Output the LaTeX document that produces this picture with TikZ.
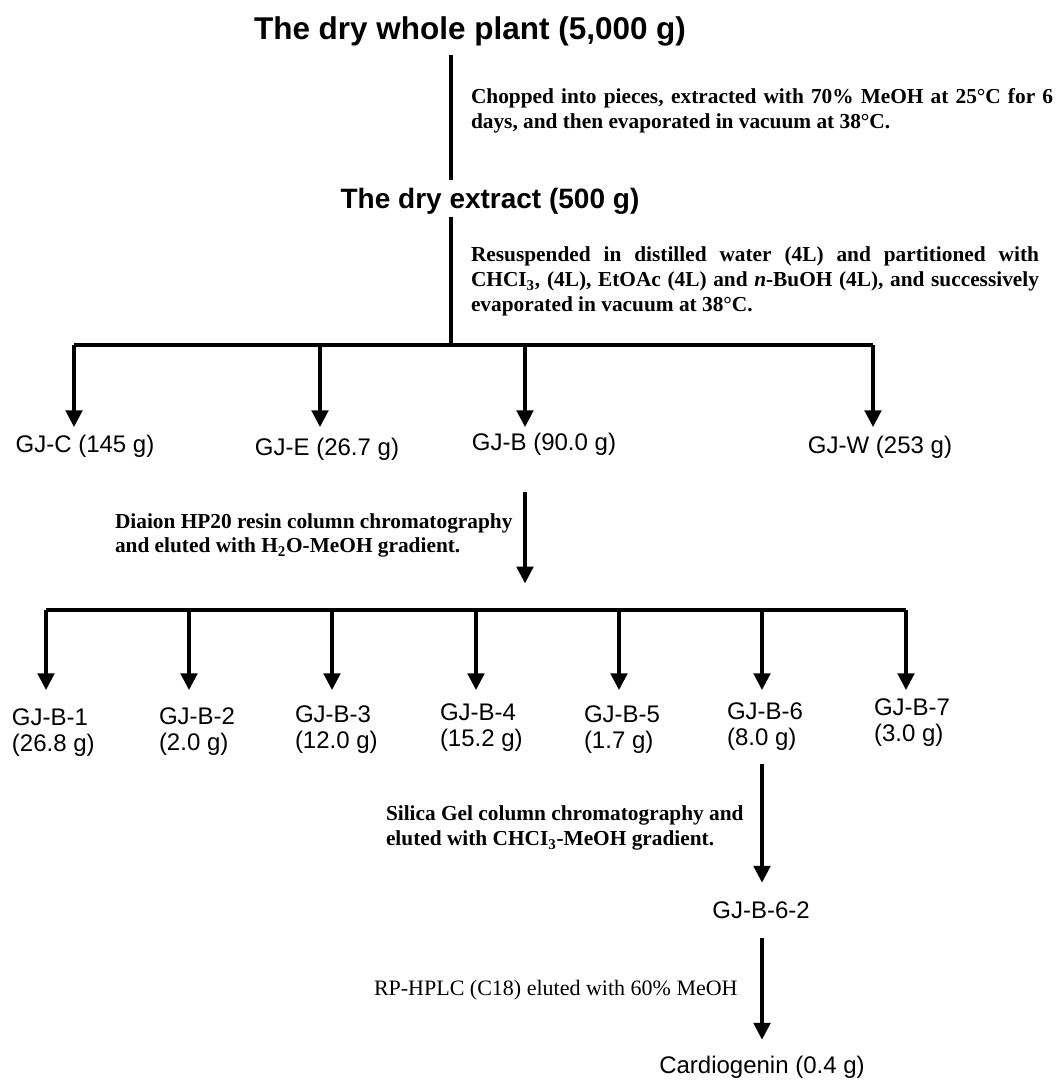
\documentclass[tikz,border=0pt]{standalone}
\usepackage{fontspec}
\setmainfont{Liberation Serif}
\setsansfont{Liberation Sans}
\usepackage{tikz}
\usetikzlibrary{arrows.meta}
\tikzstyle{every node}=[inner sep=0pt, outer sep=0pt]
\tikzset{stem/.style={line width=2.3pt},
  bar/.style={line width=3pt},
  down/.style={line width=2.3pt, -{Triangle[width=12.5pt,length=12.5pt]}},
  frac/.style={font=\fontsize{18}{19.5}\selectfont\sffamily, align=left},
  proc/.style={font=\fontsize{16}{18.75}\selectfont\bfseries, align=justify}}

\begin{document}
\begin{tikzpicture}[x=0.75pt,y=-0.75pt]
\useasboundingbox (0,0) rectangle (1058,1081);
% extraction
\coordinate (trunk) at (451,0);
\node[font=\fontsize{23.6}{28}\selectfont\sffamily\bfseries, anchor=base] (plant) at (470,40) {The dry whole plant (5,000 g)};
\node[font=\fontsize{21}{25}\selectfont\sffamily\bfseries, anchor=base] (extract) at (490,208) {The dry extract (500 g)};
\draw[stem, shorten <=6pt, shorten >=5.5pt] (trunk |- plant.south) -- (trunk |- extract.north);
\node[proc, text width=436.5pt, anchor=north west] (chop) at (471,88) {Chopped into pieces, extracted with 70\% MeOH at 25°C for 6\linebreak days, and then evaporated in vacuum at 38°C.};
% partition
\coordinate (kC) at (74,345);
\coordinate (kE) at (320,345);
\coordinate (kB) at (525,345);
\coordinate (kW) at (873,345);
\coordinate (tip1) at (0,427);
\draw[stem, shorten <=2pt] (trunk |- extract.south) -- (trunk |- kC);
\draw[bar] (kC) -- (kW);
\node[proc, text width=426pt, anchor=north west] (resus) at (471,247) {Resuspended in distilled water (4L) and partitioned with\linebreak CHCI\textsubscript{3}, (4L), EtOAc (4L) and \textit{n}-BuOH (4L), and successively\linebreak evaporated in vacuum at 38°C.};
\node[frac, anchor=base] (gjc) at (85,452) {GJ-C (145 g)};
\node[frac, anchor=base] (gje) at (327,455) {GJ-E (26.7 g)};
\node[frac, anchor=base] (gjb) at (544,450) {GJ-B (90.0 g)};
\node[frac, anchor=base] (gjw) at (880,453) {GJ-W (253 g)};
\foreach \k in {C,E,B,W}
  \draw[down] (k\k) -- (k\k |- tip1);
% Diaion HP20
\coordinate (m1) at (46,610);
\coordinate (m2) at (189,610);
\coordinate (m3) at (332,610);
\coordinate (m4) at (476,610);
\coordinate (m5) at (619,610);
\coordinate (m6) at (762,610);
\coordinate (m7) at (906,610);
\coordinate (tip2) at (0,690);
\node[proc, align=left, anchor=north west, font=\fontsize{16}{18}\selectfont\bfseries] (diaion) at (115,514) {Diaion HP20 resin column chromatography\\and eluted with H\textsubscript{2}O-MeOH gradient.};
\draw[down, shorten <=27.5pt, shorten >=20pt] (kB |- gjb.south) -- (kB |- m1);
\draw[bar] (m1) -- (m7);
\foreach \i in {1,...,7}
  \draw[down] (m\i) -- (m\i |- tip2);
\foreach \i/\x/\y/\w in {1/12/709/26.8, 2/159/708/2.0, 3/295/706/12.0, 4/440/704/15.2, 5/584/706/1.7, 6/727/703/8.0, 7/874/699/3.0}
  \node[frac, anchor=north west] (b\i) at (\x,\y) {GJ-B-\i\\(\w{} g)};
% silica gel and HPLC
\node[proc, align=left, anchor=north west] (silica) at (386,806) {Silica Gel column chromatography and\\eluted with CHCI\textsubscript{3}-MeOH gradient.};
\node[frac, anchor=base] (b62) at (761,918) {GJ-B-6-2};
\draw[down, shorten <=10pt, shorten >=14pt] (m6 |- b6.south) -- (m6 |- b62.north);
\node[font=\fontsize{16.5}{20}\selectfont, anchor=base west] (rp) at (374,995) {RP-HPLC (C18) eluted with 60\% MeOH};
\node[frac, anchor=base] (cardio) at (762,1073) {Cardiogenin (0.4 g)};
\draw[down, shorten <=15pt, shorten >=12pt] (m6 |- b62.south) -- (m6 |- cardio.north);
\end{tikzpicture}
\end{document}
